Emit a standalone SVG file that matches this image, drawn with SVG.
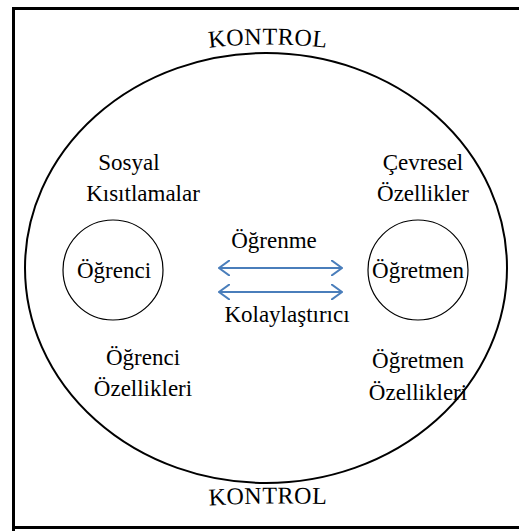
<svg xmlns="http://www.w3.org/2000/svg" width="519" height="531" viewBox="0 0 519 531">
<style>
text{font-family:"Liberation Serif","Times New Roman",serif;font-size:23px;fill:#000;text-anchor:middle}
.k{font-size:24px;letter-spacing:0.5px}
.c{fill:none;stroke:#000}
.a{fill:none;stroke:#4A7EBB;stroke-width:2}
</style>
<defs>
<path id="topArc" d="M186,51 Q268,38 350,51"/>
<path id="botArc" d="M186,507 Q268,501 350,505"/>
<marker id="ch" viewBox="0 0 12 16" refX="11" refY="8" markerWidth="12" markerHeight="16" markerUnits="userSpaceOnUse" orient="auto-start-reverse"><path d="M0,0 L11,8 L0,16" fill="none" stroke="#4A7EBB" stroke-width="2"/></marker>
</defs>
<g id="frame"><path d="M13.5,531 V8.5 H519" class="c" stroke-width="3"/><path d="M13.5,527.5 H519" class="c" stroke-width="3"/></g>
<g id="kontrol"><ellipse cx="266" cy="268" rx="241" ry="215" class="c" stroke-width="2"/>
<text class="k"><textPath href="#topArc" startOffset="50%">KONTROL</textPath></text>
<text class="k"><textPath href="#botArc" startOffset="50%">KONTROL</textPath></text></g>
<g id="ogrenci"><circle cx="113" cy="270" r="50" class="c" stroke-width="1.2"/><text x="114" y="278">Öğrenci</text></g>
<g id="ogretmen"><circle cx="418" cy="270" r="50" class="c" stroke-width="1.2"/><text x="418" y="278">Öğretmen</text></g>
<g id="sosyal"><text x="129" y="170">Sosyal</text><text x="143" y="201">Kısıtlamalar</text></g>
<g id="cevresel"><text x="423" y="170">Çevresel</text><text x="423" y="201">Özellikler</text></g>
<g id="ogrenciOz"><text x="143" y="365">Öğrenci</text><text x="143" y="396">Özellikleri</text></g>
<g id="ogretmenOz"><text x="418" y="368">Öğretmen</text><text x="418" y="400">Özellikleri</text></g>
<g id="connectors">
<line x1="219" y1="268" x2="342" y2="268" class="a" marker-start="url(#ch)" marker-end="url(#ch)"/>
<line x1="219" y1="292" x2="342" y2="292" class="a" marker-start="url(#ch)" marker-end="url(#ch)"/>
<text x="274" y="248">Öğrenme</text><text x="287" y="322">Kolaylaştırıcı</text>
</g>
</svg>
